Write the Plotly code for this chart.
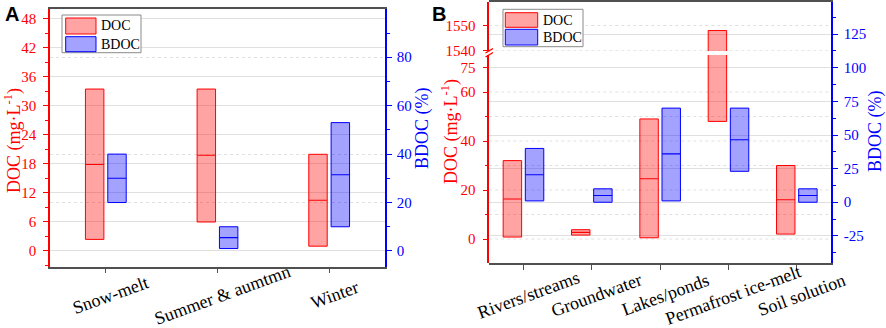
import plotly.graph_objects as go

W, H = 886, 328

# ---------------- data ----------------
seasons = ["Snow-melt", "Summer & aumtmn", "Winter"]
a_doc_low = [2.4, 6.0, 1.0]
a_doc_med = [17.9, 19.8, 10.5]
a_doc_high = [33.5, 33.5, 20.0]
a_bdoc_low = [20, 1, 10]
a_bdoc_med = [30, 5.5, 31.5]
a_bdoc_high = [40, 10, 53]

sources = ["Rivers/streams", "Groundwater", "Lakes/ponds", "Permafrost ice-melt", "Soil solution"]
b_doc_low = [0.8, 1.6, 0.5, 48, 2]
b_doc_med = [16.3, 2.7, 24.6, None, 16]
b_doc_high = [32, 3.8, 49, 1548, 30]
b_bdoc_low = [1, 0, 1, 23, 0]
b_bdoc_med = [20.5, 5, 36, 46.5, 5]
b_bdoc_high = [40, 10, 70, 70, 10]

a_doc_ticks = [0, 6, 12, 18, 24, 30, 36, 42, 48]
a_bdoc_ticks = [0, 20, 40, 60, 80]
b_doc_low_tickvals = [0, 20, 40, 60, 70]
b_doc_low_ticktext = ["0", "20", "40", "60", "75"]
b_doc_low_minor = [10, 30, 50]
b_doc_up_ticks = [1540, 1550]
b_bdoc_ticks = [-25, 0, 25, 50, 75, 100, 125]

# ---------------- style ----------------
RED = "#ff0000"
BLUE = "#0000ff"
RED_F = "rgba(255,0,0,0.36)"
BLUE_F = "rgba(0,0,255,0.36)"
SERIF = "Liberation Serif"
GRID = "#e0e0e0"
FRAME = "#505050"


def px(x):
    return x / W


def py(y):
    return 1 - y / H


fig = go.Figure()


def add_boxes(low, med, high, off, width, line, fill, xa, ya):
    n = len(low)
    xs = [i + off for i in range(n)]
    fig.add_trace(go.Bar(
        x=xs, y=[h - l for h, l in zip(high, low)], base=low, width=width,
        marker=dict(color=fill, line=dict(color=line, width=1)),
        xaxis=xa, yaxis=ya, showlegend=False, hoverinfo="skip"))
    mx, my = [], []
    for x, m in zip(xs, med):
        if m is None:
            continue
        mx += [x - width / 2, x + width / 2, None]
        my += [m, m, None]
    fig.add_trace(go.Scatter(x=mx, y=my, mode="lines",
                             line=dict(color=line, width=1.1),
                             xaxis=xa, yaxis=ya, showlegend=False, hoverinfo="skip"))


# Panel A
add_boxes(a_doc_low, a_doc_med, a_doc_high, -0.1, 0.165, RED, RED_F, "x", "y")
add_boxes(a_bdoc_low, a_bdoc_med, a_bdoc_high, 0.1, 0.165, BLUE, BLUE_F, "x", "y2")
# Panel B
add_boxes(b_bdoc_low, b_bdoc_med, b_bdoc_high, 0.162, 0.27, BLUE, BLUE_F, "x2", "y3")
add_boxes(b_doc_low, b_doc_med, b_doc_high, -0.162, 0.27, RED, RED_F, "x2", "y4")
add_boxes(b_doc_low, b_doc_med, b_doc_high, -0.162, 0.27, RED, RED_F, "x2", "y5")

tickfont_red = dict(family=SERIF, size=15, color=RED)
tickfont_blue = dict(family=SERIF, size=15, color=BLUE)

xcommon = dict(showticklabels=False, ticks="outside", ticklen=5, tickcolor=FRAME,
               showline=True, linecolor=FRAME, linewidth=1.5, mirror=True,
               showgrid=False, zeroline=False)

BX0, BX1 = 489.3, 831

fig.update_layout(
    width=W, height=H,
    margin=dict(l=0, r=0, t=0, b=0, autoexpand=False),
    paper_bgcolor="white", plot_bgcolor="rgba(0,0,0,0)",
    barmode="overlay", showlegend=False,
    xaxis=dict(domain=[px(50), px(385)], range=[-0.5, 2.5],
               tickvals=list(range(len(seasons))), anchor="y", **xcommon),
    yaxis=dict(domain=[py(266.7), py(9.3)], range=[-3.25, 50.0], anchor="x",
               tickvals=a_doc_ticks, ticks="outside", ticklen=5, tickcolor=RED,
               tickfont=tickfont_red, showline=True, linecolor=RED, linewidth=1.5,
               showgrid=True, gridcolor=GRID, zeroline=False, ticklabelstandoff=4,
               minor=dict(dtick=3, tick0=0, ticks="outside", ticklen=3, tickcolor=RED, showgrid=False)),
    yaxis2=dict(overlaying="y", side="right", anchor="x", range=[-6.5, 99.8],
                tickvals=a_bdoc_ticks, ticks="outside", ticklen=5, tickcolor=BLUE,
                tickfont=tickfont_blue, showline=True, linecolor=BLUE, linewidth=1.5,
                showgrid=True, gridcolor=GRID, griddash="dot", zeroline=False,
                ticklabelstandoff=2,
                minor=dict(dtick=10, tick0=0, ticks="outside", ticklen=3, tickcolor=BLUE, showgrid=False)),
    xaxis2=dict(domain=[px(BX0), px(BX1)], range=[-0.5, 4.5],
                tickvals=list(range(len(sources))), anchor="y3", **xcommon),
    yaxis3=dict(domain=[py(263.3), py(2)], anchor="x2", side="right", range=[-45.4, 148.9],
                tickvals=b_bdoc_ticks, ticktext=[str(v) for v in b_bdoc_ticks],
                ticks="outside", ticklen=5, tickcolor=BLUE,
                tickfont=tickfont_blue, showline=True, linecolor=BLUE, linewidth=1.5,
                showgrid=True, gridcolor=GRID, zeroline=False, ticklabelstandoff=3,
                minor=dict(dtick=12.5, tick0=0, ticks="outside", ticklen=3, tickcolor=BLUE, showgrid=False)),
    yaxis4=dict(domain=[py(263.3), py(55)], anchor="x2", side="left", range=[-9.92, 75.1],
                tickvals=b_doc_low_tickvals, ticktext=b_doc_low_ticktext,
                ticks="outside", ticklen=5, tickcolor=RED,
                tickfont=tickfont_red, showline=True, linecolor=RED, linewidth=1.5,
                showgrid=False, zeroline=False, ticklabelstandoff=4,
                minor=dict(tickvals=b_doc_low_minor, ticks="outside", ticklen=3, tickcolor=RED,
                           showgrid=False)),
    yaxis5=dict(domain=[py(51), py(2)], anchor="x2", side="left", range=[1539.9, 1559.3],
                tickvals=b_doc_up_ticks, ticks="outside", ticklen=5, tickcolor=RED,
                tickfont=tickfont_red, showline=True, linecolor=RED, linewidth=1.5,
                showgrid=False, zeroline=False, ticklabelstandoff=4),
)

ann = []
# category labels (rotated, centred near ticks)
for i, s in enumerate(seasons):
    ann.append(dict(x=i + 0.045, y=py(295), xref="x", yref="paper", text=s, showarrow=False,
                    textangle=-20, font=dict(family=SERIF, size=18, color="black"),
                    xanchor="center", yanchor="middle"))
for i, s in enumerate(sources):
    ann.append(dict(x=i + 0.073, y=py(295), xref="x2", yref="paper", text=s, showarrow=False,
                    textangle=-20, font=dict(family=SERIF, size=18, color="black"),
                    xanchor="center", yanchor="middle"))


def title(x, y, text, color):
    ann.append(dict(x=px(x), y=py(y), xref="paper", yref="paper", text=text, showarrow=False,
                    textangle=-90, font=dict(family=SERIF, size=18, color=color),
                    xanchor="center", yanchor="middle"))


title(13, 141, "DOC (mg·L<sup>-1</sup>)", RED)
title(422, 128, "BDOC (%)", BLUE)
title(450, 132, "DOC (mg·L<sup>-1</sup>)", RED)
title(875, 131, "BDOC (%)", BLUE)

# panel letters
for lx, letter in [(12, "A"), (439, "B")]:
    ann.append(dict(x=px(lx), y=py(14), xref="paper", yref="paper", text=f"<b>{letter}</b>",
                    showarrow=False, font=dict(family="Liberation Sans", size=20, color="black"),
                    xanchor="center", yanchor="middle"))

shapes = []

# Panel B left-axis gridlines, drawn beneath all traces (lower shape layer)
def hgrid(vals, yref, dash):
    for v in vals:
        shapes.append(dict(type="line", xref="paper", yref=yref, x0=px(BX0), x1=px(BX1),
                           y0=v, y1=v, line=dict(color=GRID, width=1, dash=dash), layer="below"))

hgrid(b_doc_low_tickvals + b_doc_low_minor, "y4", "dot")
hgrid(b_doc_up_ticks, "y5", "dot")


def legend(x0, x1, y0, y1, sx0, sx1, r_y, b_y, tx):
    shapes.append(dict(type="rect", xref="paper", yref="paper", x0=px(x0), x1=px(x1),
                       y0=py(y1), y1=py(y0), fillcolor="white", line=dict(color="#8a8a8a", width=1),
                       layer="above"))
    for (ya, yb), fc, lc, name in [(r_y, RED_F, RED, "DOC"), (b_y, BLUE_F, BLUE, "BDOC")]:
        shapes.append(dict(type="rect", xref="paper", yref="paper", x0=px(sx0), x1=px(sx1),
                           y0=py(yb), y1=py(ya), fillcolor=fc, line=dict(color=lc, width=1),
                           layer="above"))
        ann.append(dict(x=px(tx), y=py((ya + yb) / 2), xref="paper", yref="paper", text=name,
                        showarrow=False, font=dict(family=SERIF, size=14, color="black"),
                        xanchor="left", yanchor="middle"))


legend(62, 141, 15, 52.7, 65.7, 96, (18, 34), (36.7, 51.7), 99)
legend(503, 583, 9.3, 46.7, 505.3, 537.7, (12.7, 27.3), (29.3, 45), 541)

# axis break marks
for dy in (0, 4):
    shapes.append(dict(type="line", xref="paper", yref="paper",
                       x0=px(485.5), y0=py(53 + dy), x1=px(493), y1=py(48.5 + dy),
                       line=dict(color=RED, width=1.3), layer="above"))

fig.update_layout(annotations=ann, shapes=shapes)

# remove the browser's default 8px page margin so the figure fills the window exactly
fig.write_html("out.html", config={"displayModeBar": False},
               post_script="document.body.style.margin='0';")
